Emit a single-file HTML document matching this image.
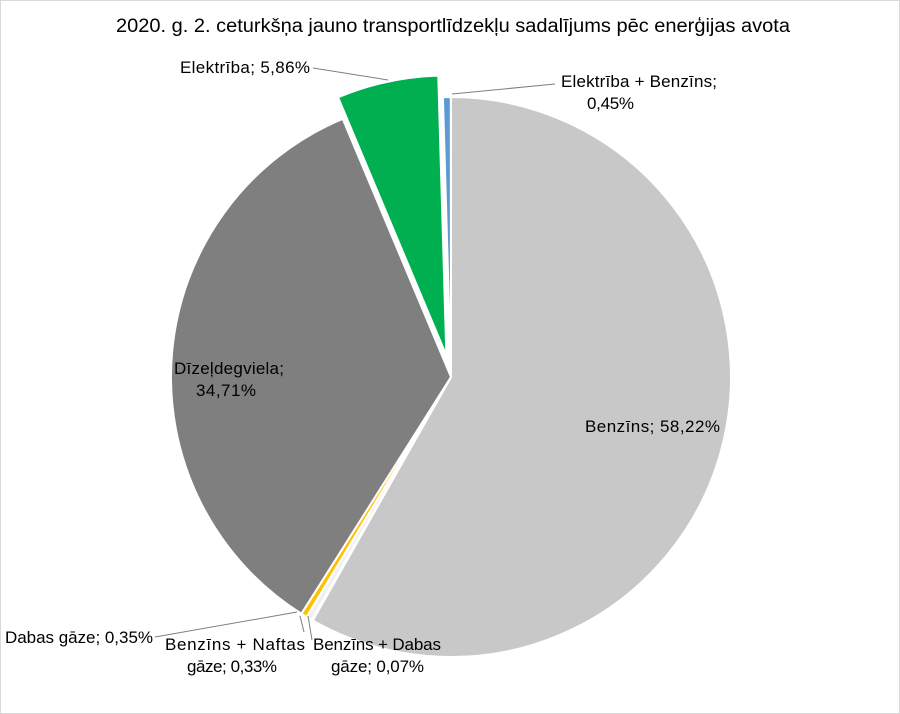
<!DOCTYPE html>
<html><head><meta charset="utf-8"><style>
body{margin:0;background:#fff}
svg{display:block;font-family:"Liberation Sans",Calibri,sans-serif}
</style></head><body>
<svg width="900" height="714" viewBox="0 0 900 714" xmlns="http://www.w3.org/2000/svg">
<rect x="0.5" y="0.5" width="899" height="713" fill="#fff" stroke="#d9d9d9"/>
<text x="116" y="32" font-size="19" textLength="674" lengthAdjust="spacingAndGlyphs" fill="#000">2020. g. 2. ceturkšņa jauno transportlīdzekļu sadalījums pēc enerģijas avota</text>
<g stroke="#fff" stroke-width="2" stroke-linejoin="round">
<path fill="#c8c8c8" d="M451,377 L451,97 A280,280 0 1 1 312.7,620.5 Z"/>
<path fill="#e6e6e6" d="M451,377 L312.7,620.5 A280,280 0 0 1 311.7,619.9 Z"/>
<path fill="#f0f0f0" d="M451,377 L311.7,619.9 A280,280 0 0 1 306.7,616.9 Z"/>
<path fill="#ffc000" d="M451,377 L306.7,616.9 A280,280 0 0 1 301.4,613.7 Z"/>
<path fill="#7f7f7f" d="M451,377 L301.4,613.7 A280,280 0 0 1 342.7,118.8 Z"/>
<path fill="#00b050" d="M446.35,355.5 L338.05,97.3 A280,280 0 0 1 438.25,75.6 Z"/>
<path fill="#5b9bd5" d="M451,377 L442.9,97.1 A280,280 0 0 1 450.8,97 Z"/>
</g>
<g stroke="#7f7f7f" stroke-width="1" fill="none">
<path d="M313,68 L388,80"/>
<path d="M555,84 L452,94"/>
<path d="M155,637 L297,612"/>
<path d="M300,616 L304,632"/>
<path d="M308,616 L312,640"/>
</g>
<g font-size="17" fill="#000" lengthAdjust="spacingAndGlyphs">
<text x="180" y="73" textLength="130">Elektrība; 5,86%</text>
<text x="561" y="87" textLength="156">Elektrība + Benzīns;</text>
<text x="587" y="109" textLength="47">0,45%</text>
<text x="174" y="374" textLength="110">Dīzeļdegviela;</text>
<text x="196" y="396" textLength="60">34,71%</text>
<text x="585" y="432" textLength="135">Benzīns; 58,22%</text>
<text x="5" y="643" textLength="148">Dabas gāze; 0,35%</text>
<text x="165" y="650" textLength="140">Benzīns + Naftas</text>
<text x="187" y="672" textLength="90">gāze; 0,33%</text>
<text x="313" y="650" textLength="128">Benzīns + Dabas</text>
<text x="331" y="672" textLength="93">gāze; 0,07%</text>
</g>
</svg>
</body></html>
